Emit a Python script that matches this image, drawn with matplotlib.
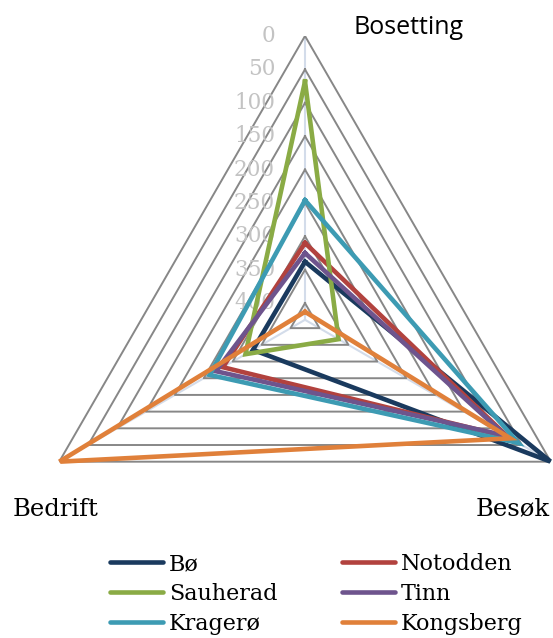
import numpy as np
import matplotlib
matplotlib.use('Agg')
import matplotlib.pyplot as plt
from matplotlib.lines import Line2D

# axes in clockwise order from the top
categories = ['Bosetting', 'Besøk', 'Bedrift']
municipalities = ['Bø', 'Notodden', 'Sauherad', 'Tinn', 'Kragerø', 'Kongsberg']
bo = [338, 0, 335]
notodden = [310, 74, 283]
sauherad = [68, 367, 322]
tinn = [325, 78, 271]
kragero = [246, 56, 260]
kongsberg = [413, 70, 0]
grid_levels = [0, 50, 100, 150, 200, 250, 300, 350, 400]
r_center = 425

colors = ['#1a3a5e', '#b2423e', '#8aab45', '#6e548d', '#3d9bb3', '#e0803a']
series = [bo, notodden, sauherad, tinn, kragero, kongsberg]

W, H = 553, 638
fig = plt.figure(figsize=(W / 100, H / 100), dpi=100)

# centre of the web at (305, 320) px, radius 284 px
cx, cy, R = 305, 319.8, 283.8
ax = fig.add_axes([(cx - R) / W, (H - cy - R) / H, 2 * R / W, 2 * R / H],
                  projection='polar')
ax.set_theta_offset(np.pi / 2)
ax.set_theta_direction(-1)
ax.set_ylim(r_center, 0)  # reversed: 0 at the outside
ax.grid(False)
ax.set_xticks([])
ax.set_yticks([])
ax.spines['polar'].set_visible(False)
ax.patch.set_alpha(0)

angles = np.linspace(0, 2 * np.pi, len(categories), endpoint=False)
closed = np.concatenate([angles, angles[:1]])

# spokes
for a in angles:
    ax.plot([a, a], [r_center, 0], color='#d3dcea', lw=1.5, zorder=1)

# triangular gridlines
for lev in grid_levels:
    ax.plot(closed, [lev] * 4, color='#878787', lw=1.4, zorder=2)
    ax.annotate(str(lev), (0, lev), xytext=(-30, 0), textcoords='offset pixels',
                ha='right', va='center', fontsize=15.5, family='DejaVu Serif',
                color='#c3c3c3', zorder=3)

for vals, col in zip(series, colors):
    v = list(vals) + [vals[0]]
    ax.plot(closed, v, color=col, lw=3.3, solid_joinstyle='miter', zorder=4)

# category labels
fig.text(354 / W, 1 - 27 / H, 'Bosetting', fontsize=18, family='Open Sans',
         ha='left', va='center')
fig.text(13 / W, 1 - 509 / H, 'Bedrift', fontsize=17.5, family='DejaVu Serif',
         ha='left', va='center')
fig.text(550 / W, 1 - 509 / H, 'Besøk', fontsize=17.5, family='DejaVu Serif',
         ha='right', va='center')

# legend, rows: Bø/Notodden, Sauherad/Tinn, Kragerø/Kongsberg
order = [0, 2, 4, 1, 3, 5]
handles = [Line2D([], [], color=colors[i], lw=3.3, solid_capstyle='round') for i in order]
labels = [municipalities[i] for i in order]
fig.legend(handles, labels, ncol=2, loc='upper left',
           bbox_to_anchor=(110 / W, 1 - 553 / H), frameon=False,
           prop={'family': 'DejaVu Serif', 'size': 16},
           handlelength=2.4, handletextpad=0.25, columnspacing=2.9,
           labelspacing=0.36, borderpad=0, borderaxespad=0)

fig.savefig('out.png', dpi=100)
